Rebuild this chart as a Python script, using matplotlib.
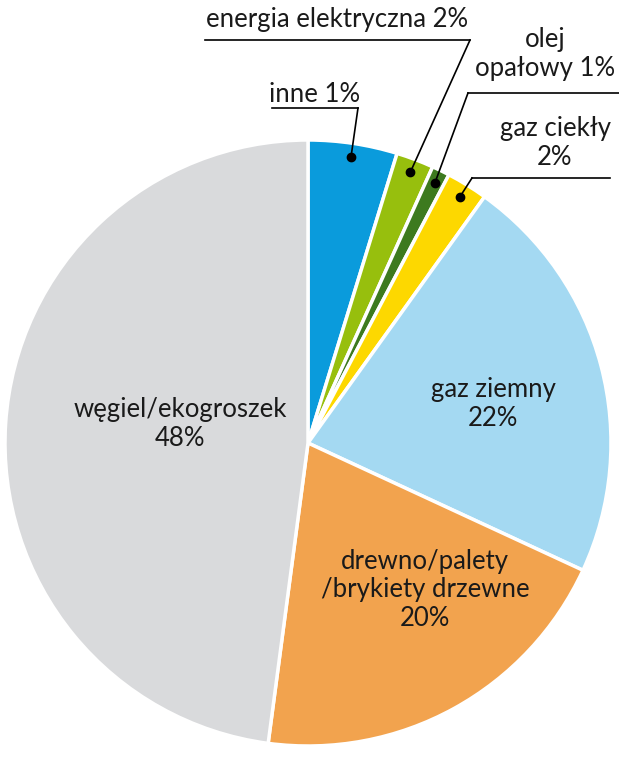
import numpy as np
import matplotlib.pyplot as plt

# slice sizes as drawn (clockwise from 12 o'clock)
names = ["inne", "energia elektryczna", "olej opałowy", "gaz ciekły",
         "gaz ziemny", "drewno/palety/brykiety drzewne", "węgiel/ekogroszek"]
shares = [4.75, 2.0, 0.95, 2.2, 22.0, 20.2, 47.9]
colors = ["#0A9BDC", "#97BF0D", "#3D7A1F", "#FDD800", "#A4D9F2", "#F2A34E", "#D9DADC"]

# labels printed on the chart
inner_labels = {4: "gaz ziemny\n22%", 5: "drewno/palety\n/brykiety drzewne\n20%",
                6: "węgiel/ekogroszek\n48%"}
outer_labels = {0: "inne 1%", 1: "energia elektryczna 2%", 2: "olej\nopałowy 1%",
                3: "gaz ciekły\n2%"}

W, H = 619, 758
plt.rcParams['font.family'] = ['Lato', 'DejaVu Sans']

fig = plt.figure(figsize=(W / 100, H / 100), dpi=100)
ax = fig.add_axes([0, 0, 1, 1])

cx, cy, R = 308, H - 443, 303
wedges, _ = ax.pie(shares, colors=colors, startangle=90, counterclock=False,
                   center=(cx, cy), radius=R, frame=True,
                   wedgeprops=dict(edgecolor="white", linewidth=2.5))
ax.set_xlim(0, W)
ax.set_ylim(0, H)
ax.axis("off")

fs = 18.5

# inner labels (positions in pixels from the top-left)
inner_pos = {4: (493, 404), 5: (425, 590), 6: (180, 424)}
for i, txt in inner_labels.items():
    x, y = inner_pos[i]
    ax.text(x, H - y, txt, ha="center", va="center", fontsize=fs,
            linespacing=1.2, color="#1a1a1a")

# outer labels: text position, underline (x0, x1, y)
outer_text = {0: (315, 94), 1: (337, 20), 2: (545, 54), 3: (555, 143)}
underline = {0: (272, 358, 108), 1: (205, 470, 40), 2: (468, 619, 93), 3: (472, 610, 178)}
leader_end = {0: 358, 1: 470, 2: 468, 3: 472}

for i, txt in outer_labels.items():
    w = wedges[i]
    mid = np.deg2rad((w.theta1 + w.theta2) / 2)
    dx, dy = cx + 0.955 * R * np.cos(mid), cy + 0.955 * R * np.sin(mid)
    ax.plot(dx, dy, "o", color="black", markersize=6, zorder=5)
    x0, x1, yl = underline[i]
    ax.plot([dx, leader_end[i]], [dy, H - yl], color="black", lw=1.2, zorder=4)
    ax.plot([x0, x1], [H - yl, H - yl], color="black", lw=1.2, zorder=4)
    tx, ty = outer_text[i]
    ax.text(tx, H - ty, txt, ha="center", va="center", fontsize=fs,
            linespacing=1.2, color="#1a1a1a")

fig.savefig("out.png", dpi=100)
